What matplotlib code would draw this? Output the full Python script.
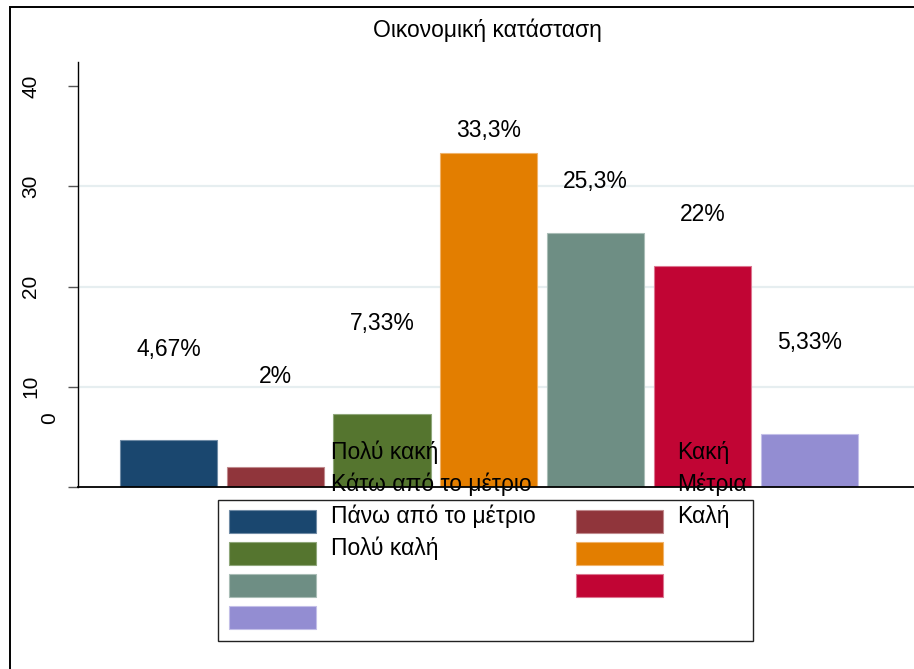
import matplotlib
matplotlib.use('Agg')
import matplotlib.pyplot as plt
import matplotlib.transforms as mtransforms
from matplotlib.patches import Rectangle

plt.rcParams['font.family'] = ['Liberation Sans', 'DejaVu Sans']

title = 'Οικονομική κατάσταση'
categories = ['Πολύ κακή', 'Κακή', 'Κάτω από το μέτριο', 'Μέτρια',
              'Πάνω από το μέτριο', 'Καλή', 'Πολύ καλή']
percent = [4.67, 2.0, 7.33, 33.33, 25.33, 22.0, 5.33]
bar_labels = ['4,67%', '2%', '7,33%', '33,3%', '25,3%', '22%', '5,33%']
label_y = [13.7, 11.0, 16.3, 35.6, 30.5, 27.2, 14.4]
yticks = [0, 10, 20, 30, 40]
colors = ['#1a476f', '#90353b', '#55752f', '#e37e00', '#6e8e84', '#c10534', '#938dd2']
edges = ['#6f8ba5', '#c08a8d', '#8fa77a', '#f0b36a', '#a9bdb6', '#dc7590', '#c3bfe8']

W, H = 914, 669
fig = plt.figure(figsize=(W / 100, H / 100), dpi=100)
fig.patch.set_facecolor('white')
FS = 16.5


def fx(px):
    return px / W


def fy(py):
    return 1 - py / H


# axes: y-axis at x=78, zero at y=487, top at y=62
ax = fig.add_axes([fx(78), fy(487), 1 - fx(78), fy(62) - fy(487)])
ax.set_xlim(-0.847, 6.98)
ax.set_ylim(0, 42.4)

for g in [10, 20, 30]:
    ax.axhline(g, color='#e6eef0', lw=1.6, zorder=0)

xs = list(range(len(percent)))
ax.bar(xs, percent, width=0.91, color=colors, edgecolor=edges, linewidth=0.8, zorder=2)

for x, lab, ly in zip(xs, bar_labels, label_y):
    ax.text(x, ly, lab, ha='center', va='center', fontsize=FS, color='black', zorder=3)

ax.spines['top'].set_visible(False)
ax.spines['right'].set_visible(False)
ax.spines['left'].set_linewidth(1.0)
ax.spines['bottom'].set_linewidth(1.3)
ax.set_xticks([])
ax.set_yticks(yticks)
ax.set_yticklabels([str(t) for t in yticks], rotation=90, va='center', fontsize=15)
ax.tick_params(axis='y', length=7.2, width=1.0, color='#555555', pad=20)

# the misplaced "0" label
lab0 = ax.get_yticklabels()[0]
lab0.set_transform(lab0.get_transform() +
                   mtransforms.ScaledTranslation(19 / 100, 69 / 100, fig.dpi_scale_trans))

fig.text(fx(487), fy(30), title, ha='center', va='center', fontsize=FS)

# outer frame (runs past right and bottom edges)
fig.add_artist(Rectangle((fx(10), -0.1), 1.2, fy(7) + 0.1, fill=False,
                         edgecolor='black', lw=1.4, transform=fig.transFigure))

# legend box
fig.add_artist(Rectangle((fx(218), fy(641)), fx(753) - fx(218), fy(500) - fy(641),
                         facecolor='white', edgecolor='#222222', lw=1.0,
                         transform=fig.transFigure, zorder=4))
col_x = [229, 576]
text_x = [331, 677]
for i, (cat, c, e) in enumerate(zip(categories, colors, edges)):
    row, col = divmod(i, 2)
    top = 510 + row * 32
    fig.add_artist(Rectangle((fx(col_x[col]), fy(top + 23)), fx(87), fy(top) - fy(top + 23),
                             facecolor=c, edgecolor=e, lw=0.8,
                             transform=fig.transFigure, zorder=5))
    ty = 516 + (row - 2) * 32
    fig.text(fx(text_x[col]), fy(ty), cat, ha='left', va='center', fontsize=FS, zorder=6)

fig.savefig('out.png', dpi=100)
